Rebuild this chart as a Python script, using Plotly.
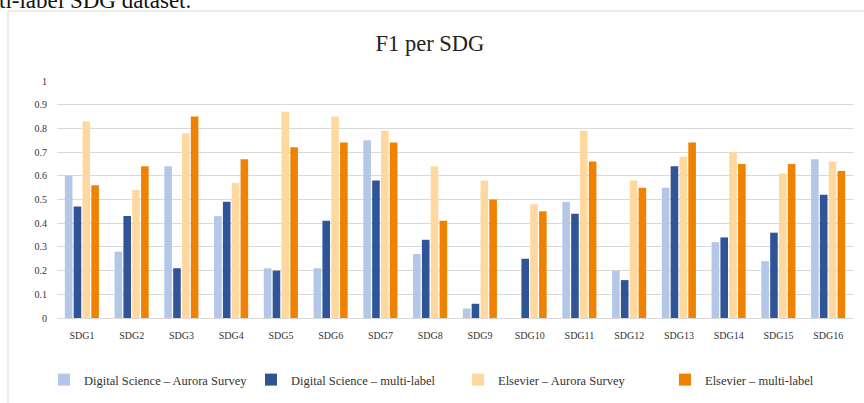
import plotly.graph_objects as go

categories = ["SDG1", "SDG2", "SDG3", "SDG4", "SDG5", "SDG6", "SDG7", "SDG8",
              "SDG9", "SDG10", "SDG11", "SDG12", "SDG13", "SDG14", "SDG15", "SDG16"]

ds_aurora = [0.60, 0.28, 0.64, 0.43, 0.21, 0.21, 0.75, 0.27,
             0.04, 0.00, 0.49, 0.20, 0.55, 0.32, 0.24, 0.67]
ds_multi = [0.47, 0.43, 0.21, 0.49, 0.20, 0.41, 0.58, 0.33,
            0.06, 0.25, 0.44, 0.16, 0.64, 0.34, 0.36, 0.52]
els_aurora = [0.83, 0.54, 0.78, 0.57, 0.87, 0.85, 0.79, 0.64,
              0.58, 0.48, 0.79, 0.58, 0.68, 0.70, 0.61, 0.66]
els_multi = [0.56, 0.64, 0.85, 0.67, 0.72, 0.74, 0.74, 0.41,
             0.50, 0.45, 0.66, 0.55, 0.74, 0.65, 0.65, 0.62]

series_names = ["Digital Science – Aurora Survey", "Digital Science – multi-label",
                "Elsevier – Aurora Survey", "Elsevier – multi-label"]
series_values = [ds_aurora, ds_multi, els_aurora, els_multi]
series_colors = ["#B4C7E7", "#2F5597", "#FFD8A0", "#EF8200"]

W, H = 864, 403
L, R, T, B = 57, 11, 81, 85
PW, PH = W - L - R, H - T - B


def px(xp):
    return (xp - L) / PW


def py(yp):
    return (H - B - yp) / PH


SERIF = "Liberation Serif, Times New Roman, serif"

fig = go.Figure()
for name, vals, col in zip(series_names, series_values, series_colors):
    fig.add_trace(go.Bar(x=categories, y=vals, name=name,
                         marker=dict(color=col, line=dict(width=0))))

fig.update_layout(
    width=W, height=H,
    margin=dict(l=L, r=R, t=T, b=B, autoexpand=False),
    paper_bgcolor="white", plot_bgcolor="white",
    barmode="group", bargap=0.29, bargroupgap=0.14,
    font=dict(family=SERIF, color="#333333"),
    title=dict(text="F1 per SDG", xref="container", x=430 / W, xanchor="center",
               yref="container", y=1 - 43 / H, yanchor="middle",
               font=dict(family=SERIF, size=22.5, color="#222222")),
    showlegend=True,
    legend=dict(orientation="h", x=px(44), xanchor="left",
                y=py(380), yanchor="middle",
                font=dict(family=SERIF, size=12.5, color="#333333"),
                entrywidth=162, entrywidthmode="pixels",
                traceorder="normal", bgcolor="rgba(0,0,0,0)"),
    xaxis=dict(showgrid=False, showline=False, ticks="", automargin=False,
               tickfont=dict(family=SERIF, size=10, color="#333333"),
               ticklabelstandoff=10, fixedrange=True),
    yaxis=dict(range=[0, 1], dtick=0.1, tick0=0, showgrid=True, automargin=False,
               gridcolor="#D9D9D9", gridwidth=1,
               zeroline=True, zerolinecolor="#D9D9D9", zerolinewidth=1,
               showline=False, ticks="",
               tickfont=dict(family=SERIF, size=10, color="#333333"),
               ticklabelstandoff=9, fixedrange=True),
    shapes=[dict(type="rect", xref="paper", yref="paper",
                 x0=px(8), x1=px(880), y0=py(420), y1=py(11),
                 line=dict(color="#D9D9D9", width=1), fillcolor="rgba(0,0,0,0)",
                 layer="below")],
    annotations=[dict(text="ti-label SDG dataset.", xref="paper", yref="paper",
                      x=px(-3), xanchor="left", y=py(15), yanchor="bottom",
                      showarrow=False,
                      font=dict(family=SERIF, size=23, color="#111111"))],
)

fig.write_html("out.html",
               config={"displayModeBar": False, "staticPlot": True},
               post_script="document.body.style.margin='0';"
                           "document.body.style.overflow='hidden';")
